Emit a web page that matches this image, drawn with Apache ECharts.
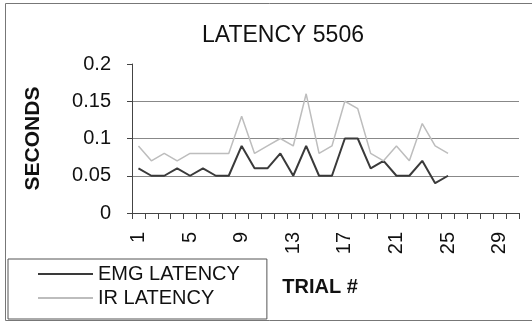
<!DOCTYPE html>
<html>
<head>
<meta charset="utf-8">
<script src="https://cdn.jsdelivr.net/npm/echarts@6/dist/echarts.min.js"></script>
<style>html,body{margin:0;padding:0;background:#fff}#c{width:532px;height:322px}</style>
</head>
<body>
<div id="c"></div>
<script>
var trials = [];
for (var t = 1; t <= 30; t++) trials.push(String(t));
var emgLatency = [0.06,0.05,0.05,0.06,0.05,0.06,0.05,0.05,0.09,0.06,0.06,0.08,0.05,0.09,0.05,0.05,0.10,0.10,0.06,0.07,0.05,0.05,0.07,0.04,0.05];
var irLatency  = [0.09,0.07,0.08,0.07,0.08,0.08,0.08,0.08,0.13,0.08,0.09,0.10,0.09,0.16,0.08,0.09,0.15,0.14,0.08,0.07,0.09,0.07,0.12,0.09,0.08];
var seriesNames = ['EMG LATENCY','IR LATENCY'];

var FONT = "'Liberation Sans', Arial, sans-serif";
var chart = echarts.init(document.getElementById('c'), null, {renderer:'canvas'});
chart.setOption({
  animation: false,
  backgroundColor: '#fff',
  title: {
    text: 'LATENCY 5506',
    left: 278, top: 19, textAlign: 'center',
    textStyle: {fontFamily: FONT, fontSize: 23, fontWeight: 'normal', color: '#111'}
  },
  graphic: [{
    type: 'rect', silent: true,
    shape: {x: 5.5, y: 3.5, width: 540, height: 317},
    style: {fill: 'none', stroke: '#777', lineWidth: 1}
  }],
  legend: {
    orient: 'vertical',
    left: 8, top: 259,
    padding: [4, 27, 10, 30],
    itemWidth: 55, itemHeight: 2, itemGap: 2,
    icon: 'rect',
    borderColor: '#555', borderWidth: 1,
    textStyle: {fontFamily: FONT, fontSize: 20, color: '#111', lineHeight: 22},
    data: seriesNames
  },
  grid: {left: 132, right: 13, top: 64, bottom: 109, containLabel: false},
  xAxis: {
    type: 'category',
    data: trials,
    boundaryGap: true,
    name: 'TRIAL #',
    nameLocation: 'middle',
    nameGap: 64,
    nameTextStyle: {fontFamily: FONT, fontSize: 20, fontWeight: 'bold', color: '#111', padding: [0, 11, 0, 0]},
    axisLine: {lineStyle: {color: '#444', width: 1}},
    axisTick: {show: true, interval: 0, length: 6, lineStyle: {color: '#444'}},
    axisLabel: {interval: 3, rotate: 90, margin: 19, fontFamily: FONT, fontSize: 20, color: '#111'},
    splitLine: {show: false}
  },
  yAxis: {
    type: 'value',
    min: 0, max: 0.2, interval: 0.05,
    name: 'SECONDS',
    nameLocation: 'middle',
    nameRotate: 90,
    nameGap: 88,
    nameTextStyle: {fontFamily: FONT, fontSize: 21, fontWeight: 'bold', color: '#111'},
    axisLine: {show: true, lineStyle: {color: '#444', width: 1}},
    axisTick: {show: true, length: 5, lineStyle: {color: '#444'}},
    axisLabel: {margin: 21, fontFamily: FONT, fontSize: 20, color: '#111'},
    splitLine: {show: true, showMaxLine: false, lineStyle: {color: '#888', width: 1}}
  },
  series: [
    {name: seriesNames[0], type: 'line', data: emgLatency, symbol: 'none',
     lineStyle: {color: '#3a3a3a', width: 2}, itemStyle: {color: '#3a3a3a'}},
    {name: seriesNames[1], type: 'line', data: irLatency, symbol: 'none',
     lineStyle: {color: '#bdbdbd', width: 1.5}, itemStyle: {color: '#bdbdbd'}}
  ]
});
</script>
</body>
</html>
